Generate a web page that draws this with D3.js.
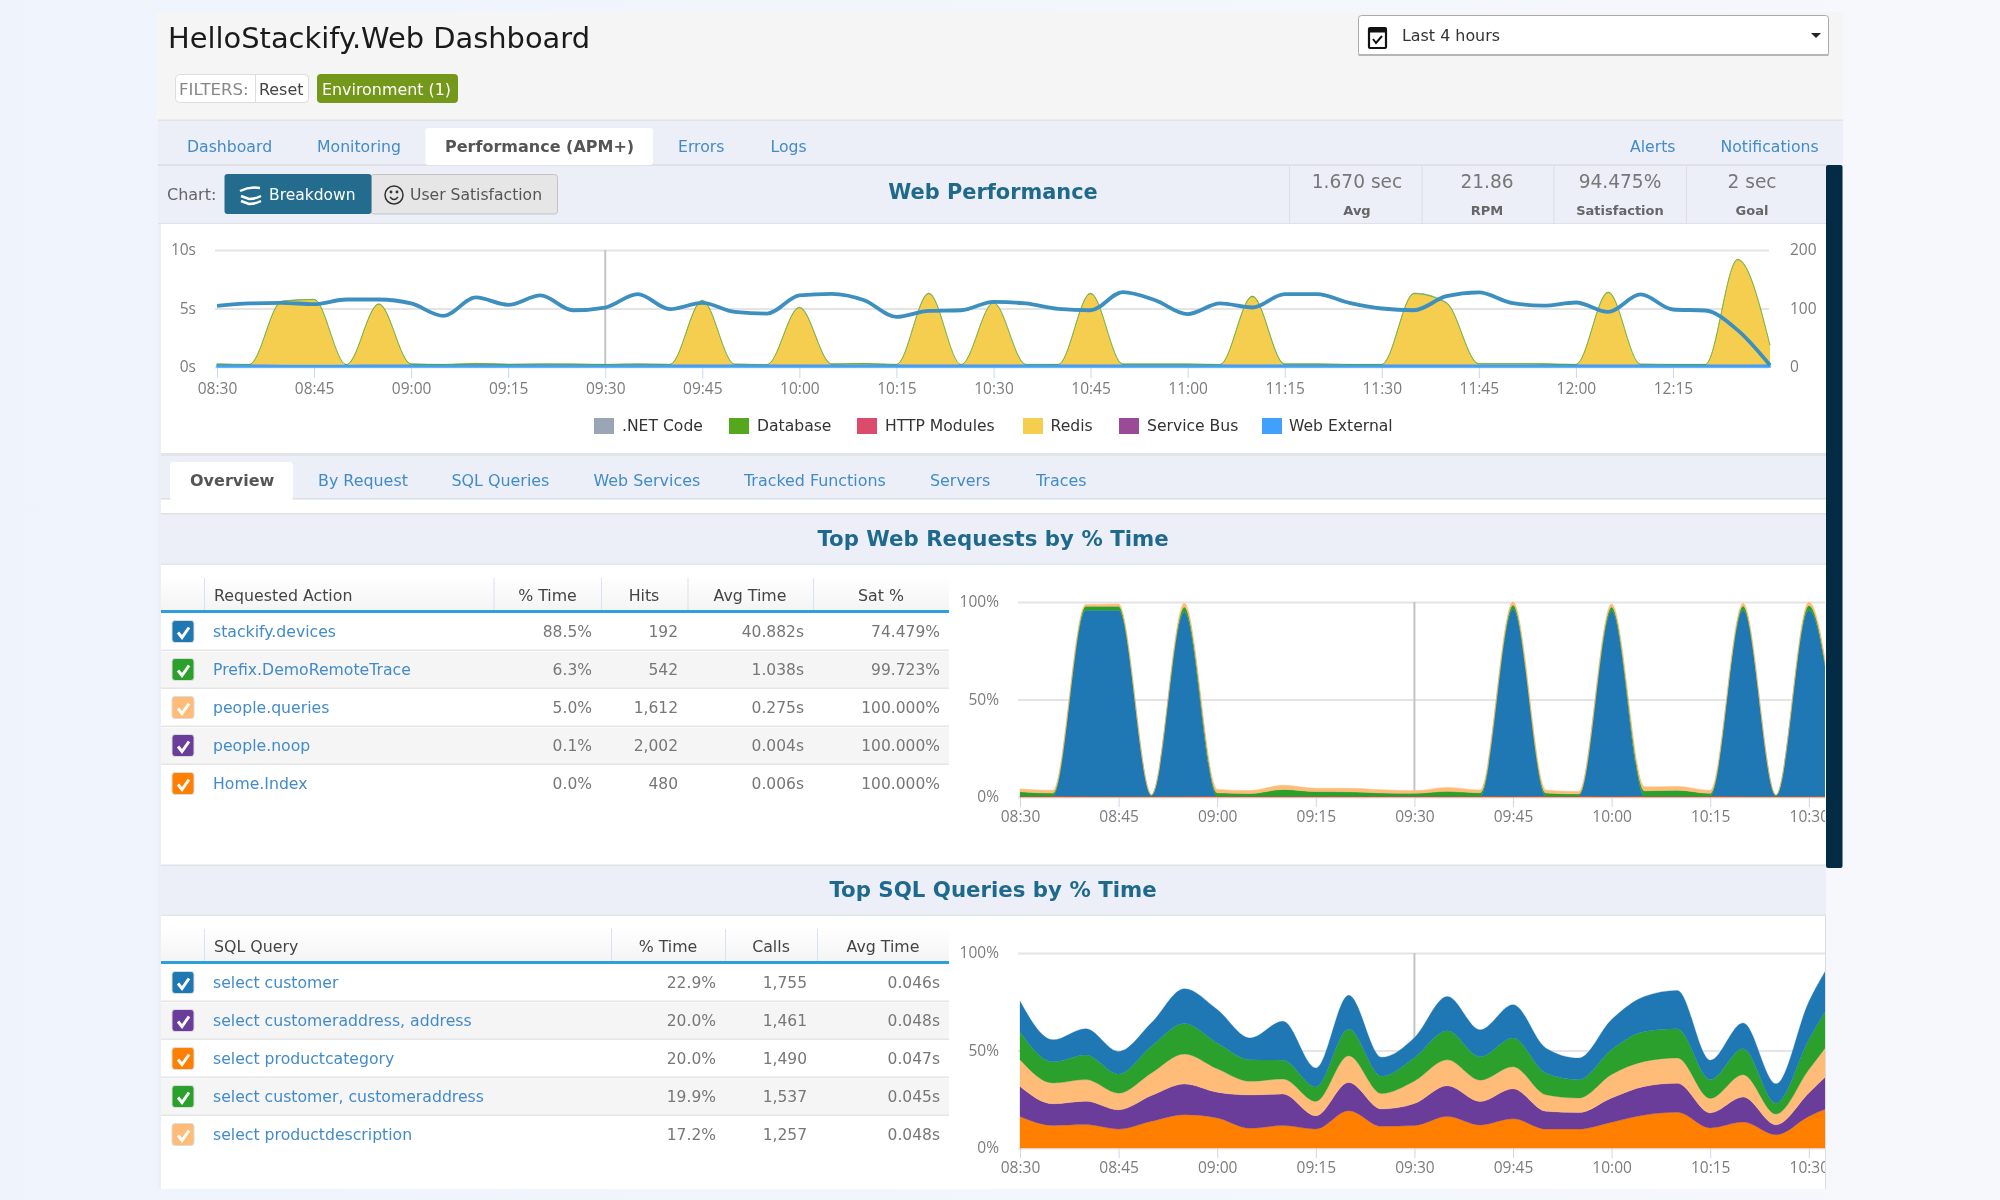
<!DOCTYPE html>
<html lang="en">
<head>
<meta charset="utf-8">
<title>HelloStackify.Web Dashboard</title>
<style type="text/css">
	html, body { margin:0; padding:0; background:#f1f5fc; overflow:hidden; }
	svg { display:block; filter:blur(0.4px); }
	text { font-family:"DejaVu Sans", sans-serif; }
	.tick text { font-family:"Open Sans", sans-serif; font-size:15.5px; fill:#7c7c7c; }
	.tick line { stroke:#e4e4e4; stroke-width:2px; }
	.axis-x .tick line { stroke:#c9d8ec; stroke-width:1px; }
	.domain { display:none; }
</style>
<script src="https://d3js.org/d3.v7.min.js" charset="utf-8"></script>
</head>
<body>
<div id="page"></div>
<script>
// shared x values, five minute samples
var times = ["08:30","08:35","08:40","08:45","08:50","08:55","09:00","09:05","09:10","09:15","09:20","09:25","09:30","09:35","09:40","09:45","09:50","09:55","10:00","10:05","10:10","10:15","10:20","10:25","10:30","10:35","10:40","10:45","10:50","10:55","11:00","11:05","11:10","11:15","11:20","11:25","11:30","11:35","11:40","11:45","11:50","11:55","12:00","12:05","12:10","12:15","12:20","12:25","12:30"];
var xTicksLong = ["08:30","08:45","09:00","09:15","09:30","09:45","10:00","10:15","10:30","10:45","11:00","11:15","11:30","11:45","12:00","12:15"];
var xTicksShort = ["08:30","08:45","09:00","09:15","09:30","09:45","10:00","10:15","10:30"];

// web performance, seconds per layer
var perfNames = [".NET Code","Database","HTTP Modules","Redis","Service Bus","Web External"];
var perfColors = ["#9aa6b6","#55a81e","#dc4a6c","#f5ce50","#9a4a96","#3fa1fc"];
var redis = [0.02,0.0,5.4,5.55,0.0,5.15,0.02,0.0,0.03,0.0,0.02,0.02,0.0,0.02,0.0,5.45,0.02,0.0,4.85,0.02,0.04,0.0,6.05,0.0,5.25,0.0,0.0,6.05,0.02,0.02,0.02,0.0,5.8,0.02,0.02,0.0,0.0,6.05,5.25,0.04,0.04,0.03,0.0,6.15,0.02,0.0,0.0,8.95,1.65];
var database = [0.05,0.02,0.04,0.04,0.01,0.04,0.04,0.02,0.07,0.04,0.05,0.04,0.02,0.05,0.03,0.05,0.03,0.01,0.05,0.05,0.06,0.02,0.05,0.0,0.04,0.03,0.02,0.05,0.04,0.04,0.04,0.01,0.05,0.05,0.05,0.02,0.02,0.05,0.05,0.05,0.05,0.05,0.02,0.05,0.03,0.02,0.02,0.05,0.02];
var netCode = [0.02,0.01,0.03,0.03,0.01,0.03,0.02,0.01,0.02,0.01,0.02,0.01,0.01,0.02,0.01,0.03,0.01,0.01,0.03,0.02,0.02,0.01,0.03,0.0,0.03,0.01,0.01,0.03,0.01,0.01,0.01,0.01,0.03,0.01,0.01,0.01,0.01,0.03,0.03,0.01,0.01,0.01,0.01,0.03,0.01,0.01,0.01,0.03,0.01];
var httpModules = [0,0,0,0,0,0,0,0,0,0,0,0,0,0,0,0,0,0,0,0,0,0,0,0,0,0,0,0,0,0,0,0,0,0,0,0,0,0,0,0,0,0,0,0,0,0,0,0,0];
var serviceBus = [0.01,0.01,0.01,0.01,0.01,0.01,0.01,0.01,0.01,0.01,0.01,0.01,0.01,0.01,0.01,0.01,0.01,0.01,0.01,0.01,0.01,0.01,0.01,0.01,0.01,0.01,0.01,0.01,0.01,0.01,0.01,0.01,0.01,0.01,0.01,0.01,0.01,0.01,0.01,0.01,0.01,0.01,0.01,0.01,0.01,0.01,0.01,0.01,0.01];
var webExternal = [0.2,0.2,0.19,0.19,0.19,0.2,0.2,0.2,0.2,0.2,0.2,0.2,0.2,0.2,0.2,0.2,0.2,0.2,0.2,0.2,0.2,0.2,0.2,0.2,0.2,0.2,0.2,0.2,0.2,0.2,0.2,0.2,0.2,0.2,0.2,0.2,0.2,0.2,0.2,0.2,0.2,0.2,0.2,0.2,0.2,0.2,0.2,0.2,0.2];
var rpm = [104.6,108.6,109.7,107.4,115.4,115.4,108.6,87.4,118.9,106.3,122.3,97,101.7,124.6,98.9,109.7,94.3,91.4,122.3,125,114,85.7,96,97,111.4,108.6,99.4,97,128,114,90.3,108.6,101.7,124.6,124.6,109.7,100,97,121,127.4,109.7,105,110.3,94.3,124,98.3,96.6,63,3];

// top web requests, percent of time
var reqBlue = [0,0,95.4,95.4,0.4,94.5,0,0,0,0,0,0,0,0,0,96,0,0,95,0,0,0,95.5,0.2,95.5,0.3];
var reqGreen = [2.2,1.5,2,2,0.3,2.5,1.7,1.3,3.4,2.3,2.2,1.6,1.4,2.4,1.7,2,1.6,1.1,2,2.7,3,1.4,2,0.4,2.3,1.5];
var reqPeach = [1.4,1.4,0.9,1.2,0.2,2,1.7,1.5,2.1,1.7,1.8,1.6,1.3,2,1.4,1.7,1.4,1.2,1.6,2,1.9,1.5,1.5,0.2,1.7,1.3];
var reqPurple = [0.1,0.1,0.1,0.1,0.1,0.1,0.1,0.1,0.1,0.1,0.1,0.1,0.1,0.1,0.1,0.1,0.1,0.1,0.1,0.1,0.1,0.1,0.1,0.1,0.1,0.1];
var reqOrange = [0.4,0.4,0.3,0.3,0.3,0.3,0.4,0.4,0.4,0.4,0.4,0.4,0.4,0.4,0.4,0.3,0.4,0.4,0.3,0.4,0.4,0.4,0.3,0.3,0.3,0.4];

// top sql queries, percent of time
var sqlOrange = [16.2,11.6,12,9.7,13.7,17.1,15.4,10.1,11.5,9.7,19.1,11.1,11.5,16.2,11.8,15,9.7,9.7,13.2,16.9,18.3,10.3,13.3,6.8,16.2,23.1];
var sqlPurple = [15.4,11.1,12,9.9,13.2,15.7,13.2,17.1,16.2,6.8,14.5,8.9,11.3,15.7,12.1,15.4,9.1,8.5,12.5,14.7,14.9,7.7,12.8,5.1,12,21.4];
var sqlPeach = [13.7,10.6,11.1,8.5,11.6,15.4,12,7,7.7,7.4,13.7,7.9,11.5,13.3,10.9,11.3,8.5,7.4,12,12.8,13,7.4,11.5,5.5,12,17.9];
var sqlGreen = [14.2,10.9,12.6,9.9,13.7,15.6,13.3,11.1,9.6,7.4,13.7,8.9,12,14.9,12,14.7,11.1,9.4,12.8,15.4,14.9,9.7,13.3,5.6,15.4,21.4];
var sqlBlue = [15.7,11.3,13.5,11.5,12,17.9,17.1,11.1,20,9.7,17.3,9.7,10.3,17.6,13.8,17.1,12.8,11.1,15.4,17.9,19.7,9.9,13.2,9.9,19.4,20];

// tables
var reqHeaders = ["Requested Action","% Time","Hits","Avg Time","Sat %"];
var reqNames = ["stackify.devices","Prefix.DemoRemoteTrace","people.queries","people.noop","Home.Index"];
var reqPct = ["88.5%","6.3%","5.0%","0.1%","0.0%"];
var reqHits = ["192","542","1,612","2,002","480"];
var reqAvg = ["40.882s","1.038s","0.275s","0.004s","0.006s"];
var reqSat = ["74.479%","99.723%","100.000%","100.000%","100.000%"];
var reqBox = ["#1f77b4","#2ca02c","#ffbb78","#6a3d9a","#ff7f00"];

var sqlHeaders = ["SQL Query","% Time","Calls","Avg Time"];
var sqlNames = ["select customer","select customeraddress, address","select productcategory","select customer, customeraddress","select productdescription"];
var sqlPct = ["22.9%","20.0%","20.0%","19.9%","17.2%"];
var sqlCalls = ["1,755","1,461","1,490","1,537","1,257"];
var sqlAvg = ["0.046s","0.048s","0.047s","0.045s","0.048s"];
var sqlBox = ["#1f77b4","#6a3d9a","#ff7f00","#2ca02c","#ffbb78"];

var navLeft = ["Dashboard","Monitoring","Errors","Logs"];
var navRight = ["Alerts","Notifications"];
var subTabs = ["By Request","SQL Queries","Web Services","Tracked Functions","Servers","Traces"];
var statValues = ["1.670 sec","21.86","94.475%","2 sec"];
var statLabels = ["Avg","RPM","Satisfaction","Goal"];

var link = "#428bca", teal = "#1f6a8c", panel = "#eceff7";
var parseTime = d3.utcParse("%H:%M");
var fmtTime = d3.utcFormat("%H:%M");

var svg = d3.select("#page").append("svg").attr("width", 2000).attr("height", 1200);
var defs = svg.append("defs");

function rect(g, x, y, w, h, fill, extra)
{
	var r = g.append("rect").attr("x", x).attr("y", y).attr("width", w).attr("height", h).attr("fill", fill);
	if(extra)
	{
		if(extra.stroke) { r.attr("stroke", extra.stroke); }
		if(extra.rx) { r.attr("rx", extra.rx); }
	}
	return r;
}

function label(g, x, y, str, fill, size, anchor, weight)
{
	return g.append("text").attr("x", x).attr("y", y).text(str)
		.attr("fill", fill).attr("font-size", size)
		.attr("text-anchor", anchor || "start").attr("font-weight", weight || "normal");
}

// page background and panels
var bg = defs.append("linearGradient").attr("id", "bg");
bg.append("stop").attr("offset", "0").attr("stop-color", "#eff3fc");
bg.append("stop").attr("offset", "1").attr("stop-color", "#f6f8fc");
var headGrad = defs.append("linearGradient").attr("id", "head").attr("x2", 0).attr("y2", 1);
headGrad.append("stop").attr("offset", "0").attr("stop-color", "#ffffff");
headGrad.append("stop").attr("offset", "1").attr("stop-color", "#f4f4f4");

rect(svg, 0, 0, 2000, 1200, "url(#bg)");
rect(svg, 156, 12, 1687, 108, "#f5f5f5");
rect(svg, 158, 120, 1685, 45, panel);
rect(svg, 158, 165, 1685, 59, panel);
rect(svg, 158, 119.5, 1685, 1.5, "#e2e4ea");
rect(svg, 158, 164, 1668, 2, "#dfe1e6");
rect(svg, 158, 223, 1668, 1.5, "#dfe1e6");
rect(svg, 158, 224, 3, 965, panel);
rect(svg, 161, 224, 1665, 229, "#ffffff");
rect(svg, 161, 453, 1665, 3, "#e2e4e8");
rect(svg, 161, 456, 1665, 43, panel);
rect(svg, 161, 499, 1665, 15, "#ffffff");
rect(svg, 161, 514, 1665, 50, panel);
rect(svg, 161, 564, 1665, 301, "#ffffff");
rect(svg, 161, 865, 1665, 50, panel);
rect(svg, 161, 915, 1665, 274, "#ffffff");
rect(svg, 161, 498, 1665, 1.5, "#dcdfe6");
rect(svg, 161, 513, 1665, 1.5, "#e0e2e8");
rect(svg, 161, 563.5, 1665, 1.5, "#e4e6ea");
rect(svg, 161, 864.5, 1665, 1.5, "#e0e2e8");
rect(svg, 161, 914.5, 1665, 1.5, "#e4e6ea");
rect(svg, 1825, 915, 1, 274, "#dddddd");

// title row
label(svg, 168, 48, "HelloStackify.Web Dashboard", "#1a1a1a", 28.9);
rect(svg, 175.5, 74.5, 133, 28, "#ffffff", {stroke:"#dddddd", rx:4});
rect(svg, 255, 75, 1, 27, "#dddddd");
label(svg, 179, 95, "FILTERS:", "#888888", 16.6);
label(svg, 259, 95, "Reset", "#444444", 15.9);
rect(svg, 317, 74, 141, 29, "#74981a", {rx:4});
label(svg, 322, 95, "Environment (1)", "#ffffff", 15.9);

rect(svg, 1358.5, 15.5, 470, 40, "#ffffff", {stroke:"#aaaaaa", rx:3});
rect(svg, 1358.5, 54, 470, 2, "#b5b5b5");
label(svg, 1402, 41, "Last 4 hours", "#333333", 15.9);
svg.append("path").attr("d", "M1811 33h10l-5 5z").attr("fill", "#222222");
var cal = svg.append("g").attr("transform", "translate(1368,27)");
rect(cal, 1, 1, 17, 20, "none", {stroke:"#111111"}).attr("stroke-width", 2.2).attr("rx", 1);
rect(cal, 1, 1, 17, 4.5, "#111111");
cal.append("path").attr("d", "M5 12l3 4l6 -7").attr("fill", "none").attr("stroke", "#111111").attr("stroke-width", 2);

// nav tabs
var navX = [187,317,678,770.5];
navLeft.forEach(function(d, i) { label(svg, navX[i], 152, d, link, 15.7); });
rect(svg, 425.5, 128, 227.5, 37, "#ffffff", {rx:3});
label(svg, 445, 151.5, "Performance (APM+)", "#555555", 16, "start", "bold");
var navRightX = [1630,1720.5];
navRight.forEach(function(d, i) { label(svg, navRightX[i], 152, d, link, 15.7); });

// chart row
label(svg, 167, 200, "Chart:", "#666666", 16);
rect(svg, 371, 174.5, 186.5, 39.5, "#e6e6e6", {stroke:"#c4c4c4", rx:3});
rect(svg, 224.5, 174, 147, 40, "#236c8e", {rx:3});
var stack = svg.append("g").attr("transform", "translate(240,187)").attr("fill", "none").attr("stroke", "#ffffff").attr("stroke-width", 2.5);
stack.append("path").attr("d", "M0 4q10 -5 20 -3");
stack.append("path").attr("d", "M1 9l8 3q6 0 12 -3");
stack.append("path").attr("d", "M1 14l8 3q6 0 12 -3");
label(svg, 269, 200, "Breakdown", "#ffffff", 15.5);
var face = svg.append("g").attr("transform", "translate(394,195)").attr("fill", "none").attr("stroke", "#333333").attr("stroke-width", 1.5);
face.append("circle").attr("r", 9);
face.append("path").attr("d", "M-4 2q4 5 8 0");
face.append("circle").attr("cx", -3).attr("cy", -3).attr("r", 0.7);
face.append("circle").attr("cx", 3).attr("cy", -3).attr("r", 0.7);
label(svg, 410, 200, "User Satisfaction", "#555555", 15.6);
label(svg, 993, 199, "Web Performance", teal, 20.9, "middle", "bold");

var statX = [1357,1487,1620,1752];
var statDiv = [1289,1421.5,1553.5,1686];
statValues.forEach(function(d, i)
{
	rect(svg, statDiv[i], 165, 1, 59, "#dddfe5");
	label(svg, statX[i], 188, d, "#777777", 18.6, "middle");
	label(svg, statX[i], 215, statLabels[i], "#666666", 13, "middle", "bold");
});

// sub tabs and section titles
rect(svg, 170, 462, 123, 38, "#ffffff", {rx:3});
label(svg, 190, 486, "Overview", "#555555", 16, "start", "bold");
var subX = [318,451.5,593.5,744,930,1036];
subTabs.forEach(function(d, i) { label(svg, subX[i], 486, d, link, 15.9); });
label(svg, 993, 546, "Top Web Requests by % Time", teal, 21.3, "middle", "bold");
label(svg, 993, 897, "Top SQL Queries by % Time", teal, 21.3, "middle", "bold");

function checkbox(g, y, color)
{
	rect(g, 172, y - 11, 22, 22, color, {stroke:"#dcdcdc", rx:3});
	g.append("path").attr("d", "M" + 178 + " " + (y + 1) + "l4 5l7 -10").attr("fill", "none")
		.attr("stroke", "#ffffff").attr("stroke-width", 3);
}

function table(top, headers, names, cols, boxes, sep, headX, rightX)
{
	var g = svg.append("g");
	var lineY = top + 35;
	rect(g, 161, top, 788, 35, "url(#head)");
	sep.forEach(function(x) { rect(g, x, top + 2, 1, 33, "#d9e2ee"); });
	rect(g, 161, lineY - 1, 788, 3, "#2f9fd8");
	label(g, 214, top + 24.5, headers[0], "#444444", 15.8);
	headers.slice(1).forEach(function(h, i) { label(g, headX[i], top + 24.5, h, "#444444", 15.8, "middle"); });
	names.forEach(function(n, i)
	{
		var cy = lineY + 20.5 + i * 38;
		if(i % 2 == 1) { rect(g, 161, cy - 18, 788, 37, "#f5f5f5"); }
		if(i < 4) { rect(g, 161, cy + 18, 788, 1.5, "#e6e6e6"); }
		checkbox(g, cy, boxes[i]);
		label(g, 213, cy + 5, n, link, 15.7);
		cols.forEach(function(col, j) { label(g, rightX[j], cy + 5, col[i], "#777777", 15.5, "end"); });
	});
}

table(576, reqHeaders, reqNames, [reqPct, reqHits, reqAvg, reqSat], reqBox, [204,493.5,601,687.5,813], [547.5,644,750,881], [592,678,804,940]);
table(927, sqlHeaders, sqlNames, [sqlPct, sqlCalls, sqlAvg], sqlBox, [204,611,725,817], [668,771,883], [716,807,940]);

// stacked chart used for all three plots
function stackChart(opts)
{
	var g = svg.append("g");
	if(opts.clip)
	{
		defs.append("clipPath").attr("id", opts.clip).append("rect")
			.attr("x", 950).attr("y", opts.y0 - 20).attr("width", 875).attr("height", 260);
		g.attr("clip-path", "url(#" + opts.clip + ")");
	}
	var x = d3.scaleUtc().domain(d3.extent(opts.rows, function(d) { return d.t; })).range([opts.x0, opts.x1]);
	var y = d3.scaleLinear().domain(opts.yDomain).range([opts.y1, opts.y0]);

	g.append("g").attr("transform", "translate(" + (opts.x0 - 2) + ",0)")
		.call(d3.axisLeft(y).tickValues(opts.yTicks).tickSize(-(opts.gridEnd - opts.x0 + 2)).tickPadding(19).tickFormat(opts.yFormat));
	g.append("g").attr("class", "axis-x").attr("transform", "translate(0," + opts.y1 + ")")
		.call(d3.axisBottom(x).tickValues(opts.xTicks.map(parseTime)).tickSize(opts.tickLen).tickPadding(opts.tickPad).tickFormat(fmtTime));

	// guideline at the hovered sample
	g.append("line").attr("x1", x(parseTime("09:30"))).attr("x2", x(parseTime("09:30")))
		.attr("y1", y(opts.yDomain[1])).attr("y2", y(0)).attr("stroke", "#c4c4c4").attr("stroke-width", 2);

	var series = d3.stack().keys(opts.keys)(opts.rows);
	var area = d3.area().curve(d3.curveMonotoneX)
		.x(function(d) { return x(d.data.t); })
		.y0(function(d) { return y(d[0]); })
		.y1(function(d) { return y(d[1]); });
	g.selectAll("path.layer").data(series).enter().append("path").attr("class", "layer")
		.attr("d", area)
		.attr("fill", function(d) { return opts.colors[d.key]; })
		.attr("stroke", function(d) { return opts.edges[d.key] ? opts.colors[d.key] : "none"; })
		.attr("stroke-width", function(d) { return opts.edges[d.key] || 0; });
	return {g:g, x:x};
}

var perfRows = times.map(function(t, i)
{
	return {t:parseTime(t), rpm:rpm[i], net:netCode[i], db:database[i], http:httpModules[i], redis:redis[i], bus:serviceBus[i], ext:webExternal[i]};
});
var perf = stackChart({
	rows:perfRows, keys:["ext","bus","redis","http","db","net"],
	colors:{net:perfColors[0], db:perfColors[1], http:perfColors[2], redis:perfColors[3], bus:perfColors[4], ext:perfColors[5]},
	edges:{db:0.5, ext:1.4},
	x0:217, x1:1770, gridEnd:1769, y0:250, y1:367, yDomain:[0,10], yTicks:[0,5,10],
	yFormat:function(d) { return d + "s"; }, xTicks:xTicksLong, tickLen:11, tickPad:5
});
var yRpm = d3.scaleLinear().domain([0,200]).range([367,250]);
perf.g.append("path").datum(perfRows)
	.attr("d", d3.line().curve(d3.curveMonotoneX)
		.x(function(d) { return perf.x(d.t); })
		.y(function(d) { return yRpm(d.rpm); }))
	.attr("fill", "none").attr("stroke", "#3c8fbf").attr("stroke-width", 3.8);
perf.g.append("g").attr("transform", "translate(1780,0)")
	.call(d3.axisRight(yRpm).tickValues([0,100,200]).tickSize(0).tickPadding(10))
	.selectAll("text").attr("text-anchor", "start");

// legend
var legendX = [594,729,857,1023,1119,1262];
var legendTextX = [622,757,885,1050.5,1147,1289];
perfNames.forEach(function(n, i)
{
	rect(svg, legendX[i], 418, 20, 16, perfColors[i]);
	label(svg, legendTextX[i], 431, n, "#333333", 15.6);
});

var reqRows = times.slice(0, 26).map(function(t, i)
{
	return {t:parseTime(t), orange:reqOrange[i], purple:reqPurple[i], blue:reqBlue[i], green:reqGreen[i], peach:reqPeach[i]};
});
var sqlRows = times.slice(0, 26).map(function(t, i)
{
	return {t:parseTime(t), orange:sqlOrange[i], purple:sqlPurple[i], peach:sqlPeach[i], green:sqlGreen[i], blue:sqlBlue[i]};
});
var boxColors = {blue:"#1f77b4", green:"#2ca02c", peach:"#ffbb78", purple:"#6a3d9a", orange:"#ff7f00"};

stackChart({
	rows:reqRows, keys:["orange","purple","blue","green","peach"], colors:boxColors, clip:"clipReq",
	edges:{orange:0.8, purple:0.3, blue:0.3, green:0.3, peach:0.5},
	x0:1020, x1:1841.7, gridEnd:1841.7, y0:602, y1:797, yDomain:[0,100], yTicks:[0,50,100],
	yFormat:function(d) { return d + "%"; }, xTicks:xTicksShort, tickLen:10, tickPad:4
});
stackChart({
	rows:sqlRows, keys:["orange","purple","peach","green","blue"], colors:boxColors, clip:"clipSql",
	edges:{orange:0.3, purple:0.3, peach:0.3, green:0.3, blue:0.3},
	x0:1020, x1:1841.7, gridEnd:1841.7, y0:953, y1:1148, yDomain:[0,100], yTicks:[0,50,100],
	yFormat:function(d) { return d + "%"; }, xTicks:xTicksShort, tickLen:10, tickPad:4
});

// dark scrollbar sits over the top right of the panel
rect(svg, 1826, 165, 16.5, 703, "#042b44", {rx:2});
</script>
</body>
</html>
